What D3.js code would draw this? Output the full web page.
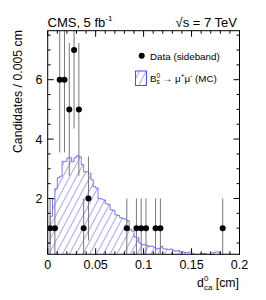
<!DOCTYPE html>
<html>
<head>
<meta charset="utf-8">
<script src="https://cdn.jsdelivr.net/npm/d3@7"></script>
<style>
	body { margin: 0; background: #fff; }
	text { font-family: "Liberation Sans", Arial, sans-serif; }
</style>
</head>
<body>
<svg id="chart" width="266" height="300"></svg>
<script>
// data (sideband): bin centres and counts
var dataX = [0.0025, 0.0075, 0.0125, 0.0175, 0.0225, 0.0275, 0.0325, 0.0375, 0.0425,
	0.0825, 0.0925, 0.0975, 0.1025, 0.1125, 0.1175, 0.1825];
var dataN = [1, 1, 6, 6, 5, 7, 5, 1, 2, 1, 1, 1, 1, 1, 1, 1];

// MC histogram, bins of 0.0025 from 0 to 0.2
var mcBinWidth = 0.0025;
var mcValues = [
	0.5, 1.4, 1.98, 2.33, 2.7, 2.75, 3.25, 3.25, 3.37, 3.37,
	3.24, 3.37, 3.44, 3.4, 3.14, 2.9, 2.9, 2.85, 2.63, 2.4,
	2.35, 2.0, 1.98, 1.95, 1.82, 1.8, 1.62, 1.6, 1.45, 1.43,
	1.35, 1.33, 1.3, 1.25, 0.95, 0.9, 0.7, 0.68, 0.5, 0.45,
	0.44, 0.42, 0.38, 0.4, 0.36, 0.3, 0.32, 0.38, 0.3, 0.3,
	0.28, 0.3, 0.25, 0.22, 0.25, 0.2, 0.2, 0.18, 0.18, 0.2,
	0.15, 0.12, 0.1, 0.1, 0.15, 0.15, 0.1, 0.1, 0.1, 0.18,
	0.2, 0.2, 0.1, 0.05, 0.05, 0.05, 0.05, 0.05, 0.05, 0.05
];

var xTicks = [0, 0.05, 0.1, 0.15, 0.2];
var xTickLabels = ['0', '0.05', '0.1', '0.15', '0.2'];
var yTicks = [2, 4, 6];

var svg = d3.select('#chart');

var x = d3.scaleLinear().domain([0, 0.2]).range([47.7, 239.5]);
var y = d3.scaleLinear().domain([0.12, 7.65]).range([254.3, 30.7]).clamp(true);

var frame = {
	left: x.range()[0],
	right: x.range()[1],
	top: y.range()[1],
	bottom: y.range()[0]
};

var blue = '#3a3aff';

// hatch pattern
var defs = svg.append('defs');
defs.append('pattern')
	.attr('id', 'hatch')
	.attr('patternUnits', 'userSpaceOnUse')
	.attr('width', 6)
	.attr('height', 6)
	.attr('patternTransform', 'rotate(28)')
	.append('line')
	.attr('x1', 0).attr('y1', 0)
	.attr('x2', 0).attr('y2', 6)
	.attr('stroke', blue)
	.attr('stroke-width', 0.9);

defs.append('clipPath')
	.attr('id', 'plotClip')
	.append('rect')
	.attr('x', frame.left).attr('y', frame.top)
	.attr('width', frame.right - frame.left).attr('height', frame.bottom - frame.top);

var plot = svg.append('g').attr('clip-path', 'url(#plotClip)');

// MC histogram
var bins = mcValues.map((v, i) => ({x0: i * mcBinWidth, v: v}));
bins.push({x0: mcValues.length * mcBinWidth, v: mcValues[mcValues.length - 1]});

plot.append('path')
	.datum(bins)
	.attr('d', d3.area()
		.curve(d3.curveStepAfter)
		.x(d => x(d.x0))
		.y0(frame.bottom)
		.y1(d => y(d.v)))
	.attr('fill', 'url(#hatch)');

plot.append('path')
	.datum([{x0: 0, v: 0}].concat(bins))
	.attr('d', d3.line()
		.curve(d3.curveStepAfter)
		.x(d => x(d.x0))
		.y(d => y(d.v)))
	.attr('fill', 'none')
	.attr('stroke', blue)
	.attr('stroke-opacity', 0.75)
	.attr('stroke-width', 0.9);

// data error bars and points
var pts = dataX.map((d, i) => ({x: d, n: dataN[i]}));

plot.selectAll('.err')
	.data(pts)
	.enter()
	.append('line')
	.attr('class', 'err')
	.attr('x1', d => x(d.x)).attr('x2', d => x(d.x))
	.attr('y1', d => y(d.n - Math.sqrt(d.n)))
	.attr('y2', d => y(d.n + Math.sqrt(d.n)))
	.attr('stroke', '#777')
	.attr('stroke-width', 1);

plot.selectAll('.pt')
	.data(pts)
	.enter()
	.append('circle')
	.attr('class', 'pt')
	.attr('cx', d => x(d.x))
	.attr('cy', d => y(d.n))
	.attr('r', 3)
	.attr('fill', '#000');

// ticks on all four sides, pointing inward
var axes = svg.append('g').attr('stroke', '#000').attr('stroke-width', 1);

var xMinor = d3.range(0, 0.2001, 0.01);
axes.selectAll('.xt')
	.data(xMinor)
	.enter()
	.append('path')
	.attr('d', d => {
		var major = Math.abs(Math.round(d / 0.05) * 0.05 - d) < 1e-6;
		var len = major ? 6 : 3;
		var px = x(d);
		return `M${px},${frame.bottom}v${-len}M${px},${frame.top}v${len}`;
	});

var yMinor = d3.range(0.5, 7.6, 0.5);
axes.selectAll('.yt')
	.data(yMinor)
	.enter()
	.append('path')
	.attr('d', d => {
		var len = d % 2 === 0 ? 6 : 3;
		var py = y(d);
		return `M${frame.left},${py}h${len}M${frame.right},${py}h${-len}`;
	});

svg.append('rect')
	.attr('x', frame.left).attr('y', frame.top)
	.attr('width', frame.right - frame.left).attr('height', frame.bottom - frame.top)
	.attr('fill', 'none')
	.attr('stroke', '#000')
	.attr('stroke-width', 1);

// tick labels
svg.selectAll('.xl')
	.data(xTicks)
	.enter()
	.append('text')
	.attr('x', d => x(d))
	.attr('y', 268.5)
	.attr('text-anchor', 'middle')
	.attr('font-size', 12.5)
	.text((d, i) => xTickLabels[i]);

svg.selectAll('.yl')
	.data(yTicks)
	.enter()
	.append('text')
	.attr('x', 42.5)
	.attr('y', d => y(d) + 4.5)
	.attr('text-anchor', 'end')
	.attr('font-size', 12.5)
	.text(d => d);

// axis titles
svg.append('text')
	.attr('transform', 'translate(21.5,30) rotate(-90)')
	.attr('text-anchor', 'end')
	.attr('font-size', 12.3)
	.text('Candidates / 0.005 cm');

var xt = svg.append('text')
	.attr('x', 239)
	.attr('y', 287)
	.attr('text-anchor', 'end')
	.attr('font-size', 12.3);
xt.append('tspan').text('d');
xt.append('tspan').attr('font-size', 8).attr('dy', -6).text('0');
xt.append('tspan').attr('font-size', 8).attr('dx', -4.5).attr('dy', 9).text('ca');
xt.append('tspan').attr('dy', -3).text(' [cm]');

// header
var h1 = svg.append('text')
	.attr('x', 47.5)
	.attr('y', 26.5)
	.attr('font-size', 13);
h1.append('tspan').text('CMS, 5 fb');
h1.append('tspan').attr('font-size', 8).attr('dy', -6).text('-1');

svg.append('text')
	.attr('x', 237)
	.attr('y', 26.5)
	.attr('text-anchor', 'end')
	.attr('font-size', 13)
	.text('\u221As = 7 TeV');

// legend
svg.append('circle')
	.attr('cx', 141.7).attr('cy', 55.7).attr('r', 3).attr('fill', '#000');
svg.append('text')
	.attr('x', 150).attr('y', 59.5)
	.attr('font-size', 9.8)
	.text('Data (sideband)');

svg.append('rect')
	.attr('x', 135.5).attr('y', 71)
	.attr('width', 11).attr('height', 14.5)
	.attr('fill', 'url(#hatch)')
	.attr('stroke', blue)
	.attr('stroke-width', 0.9);

var lg = svg.append('text')
	.attr('x', 150).attr('y', 82)
	.attr('font-size', 9.8);
lg.append('tspan').text('B');
lg.append('tspan').attr('font-size', 6.5).attr('dy', -4).text('0');
lg.append('tspan').attr('font-size', 6.5).attr('dx', -3.6).attr('dy', 6).text('s');
lg.append('tspan').attr('dy', -2).text(' \u2192 \u03BC');
lg.append('tspan').attr('font-size', 6.5).attr('dy', -4).text('+');
lg.append('tspan').attr('dy', 4).text('\u03BC');
lg.append('tspan').attr('font-size', 6.5).attr('dy', -4).text('-');
lg.append('tspan').attr('dy', 4).text(' (MC)');
</script>
</body>
</html>
